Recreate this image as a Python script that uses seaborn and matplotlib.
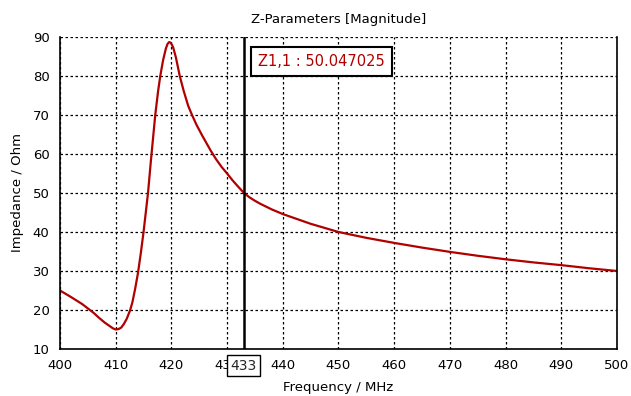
import matplotlib
matplotlib.use("Agg")
import matplotlib.pyplot as plt
import seaborn as sns
import pandas as pd

# Values
freq_mhz = [400, 402, 404, 406, 407, 408, 409, 409.5, 410, 410.5, 411, 411.5, 412, 412.6,
            413, 413.5, 414, 414.5, 415, 415.4, 415.8, 416.3, 416.7, 417.1, 417.6, 418,
            418.5, 419, 419.3, 419.6, 419.9, 420.3, 420.8, 421.5, 422.2, 423, 423.7,
            424.5, 425.5, 427, 428, 429, 430, 431, 432, 433, 434, 435, 436, 438, 440,
            445, 450, 455, 460, 465, 470, 475, 480, 485, 490, 495, 500]
impedance = [25, 23.3, 21.5, 19.3, 18, 16.8, 15.8, 15.3, 15, 15.1, 15.5, 16.5, 17.8, 20,
             22, 25.5, 29.5, 34.5, 40, 45, 50, 58, 64, 70, 76, 80,
             84, 87, 88.2, 88.7, 88.5, 87.4, 84.8, 80, 76.2, 72.4, 70,
             67.5, 64.8, 61, 58.7, 56.7, 55, 53.2, 51.6, 50.05, 48.9, 48, 47.2, 45.8, 44.6,
             42.1, 40, 38.5, 37.2, 36, 34.9, 33.9, 33, 32.2, 31.5, 30.7, 30]
x_ticks = [400, 410, 420, 430, 440, 450, 460, 470, 480, 490, 500]
y_ticks = [10, 20, 30, 40, 50, 60, 70, 80, 90]
marker_freq = 433
marker_value = "Z1,1 : 50.047025"

df = pd.DataFrame({"freq": freq_mhz, "z": impedance})

sns.set_style("white")
plt.rcParams["font.family"] = ["DejaVu Sans"]

fig = plt.figure(figsize=(6.31, 3.96), dpi=100)
ax = fig.add_axes([0.0951, 0.1187, 0.8827, 0.7879])

sns.lineplot(data=df, x="freq", y="z", color="#b00000", linewidth=1.6, ax=ax)

ax.set_xlim(400, 500)
ax.set_ylim(10, 90)
ax.set_xticks(x_ticks)
ax.set_yticks(y_ticks)
ax.grid(True, color="black", linestyle=(0, (2, 2)), linewidth=0.9)
ax.tick_params(labelsize=9.5, length=4, width=1, colors="black", direction="out")

for side in ["left", "bottom", "right"]:
    ax.spines[side].set_color("black")
    ax.spines[side].set_linewidth(1.2)
ax.spines["top"].set_visible(False)

ax.set_title("Z-Parameters [Magnitude]", fontsize=9.5, pad=10, color="black")
ax.set_xlabel("Frequency / MHz", fontsize=9.5, labelpad=6, color="black")
ax.set_ylabel("Impedance / Ohm", fontsize=9.5, labelpad=6, color="black")

# marker line at 433 MHz
ax.axvline(marker_freq, color="black", linewidth=1.8)
ax.annotate(str(marker_freq), xy=(marker_freq, 0), xycoords=("data", "axes fraction"),
            xytext=(0, -12), textcoords="offset points", ha="center", va="center",
            fontsize=10, bbox=dict(boxstyle="square,pad=0.25", fc="white", ec="black", lw=1))
ax.text(435.6, 83.7, marker_value, color="#b00000", fontsize=10.5, ha="left", va="center",
        bbox=dict(boxstyle="square,pad=0.5", fc="white", ec="black", lw=1.5))

fig.savefig("out.png", dpi=100)
